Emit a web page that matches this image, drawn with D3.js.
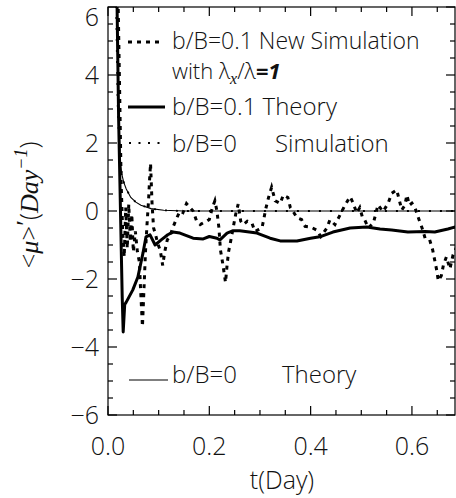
<!DOCTYPE html>
<html>
<head>
<meta charset="utf-8">
<script src="https://cdn.jsdelivr.net/npm/d3@7"></script>
<style>
  body { margin: 0; background: #fff; }
  text { font-family: "Open Sans", "DejaVu Sans", sans-serif; font-weight: 300; fill: #111; }
</style>
</head>
<body>
<div id="chart"></div>
<script>
// b/B=0.1 new simulation (thick dotted)
const newSimT = [0.019,0.023,0.026,0.029,0.032,0.035,0.038,0.041,0.044,0.047,0.050,0.054,0.058,0.062,0.064,0.066,0.068,0.071,0.074,0.077,0.080,0.082,0.084,0.087,0.090,0.094,0.098,0.103,0.108,0.112,0.117,0.122,0.129,0.136,0.142,0.148,0.155,0.162,0.168,0.175,0.182,0.188,0.195,0.200,0.206,0.211,0.215,0.219,0.222,0.226,0.229,0.232,0.235,0.238,0.242,0.247,0.252,0.257,0.262,0.267,0.275,0.284,0.290,0.297,0.304,0.308,0.312,0.317,0.323,0.330,0.340,0.346,0.355,0.360,0.367,0.373,0.382,0.389,0.400,0.412,0.420,0.432,0.438,0.448,0.458,0.468,0.478,0.484,0.491,0.497,0.502,0.507,0.514,0.524,0.533,0.543,0.553,0.560,0.570,0.575,0.580,0.586,0.590,0.595,0.600,0.606,0.612,0.620,0.626,0.635,0.641,0.645,0.649,0.652,0.658,0.662,0.668,0.675,0.681,0.690];
const newSimV = [7,3.5,0.8,-0.6,-1.35,0.1,-1.1,0.2,-0.9,-0.1,-1.2,-0.6,-1.2,-1.5,-2.2,-2.8,-3.4,-2.3,-1.2,-0.4,0.3,0.9,1.4,0.2,-0.5,-0.7,-0.95,-1.15,-1.6,-1.2,-0.85,-0.75,-0.45,-0.2,0.0,-0.05,0.22,0.1,0.0,-0.3,-0.4,-0.35,-0.3,-0.25,0.1,0.3,0.0,-0.5,-1.15,-1.5,-1.8,-2.1,-1.6,-1.2,-0.9,-0.5,-0.1,0.2,-0.3,-0.4,-0.3,-0.35,-0.6,-0.55,-0.5,-0.2,0.1,0.4,0.7,0.3,0.22,0.47,0.4,0.1,-0.05,-0.2,-0.25,-0.45,-0.47,-0.56,-0.75,-0.5,-0.26,-0.4,-0.12,0.18,0.42,0.23,-0.06,0.1,-0.17,-0.27,-0.5,-0.35,0.18,-0.02,0.23,0.52,0.62,0.32,0.03,0.17,0.47,0.17,0.23,0.1,-0.17,-0.5,-0.8,-0.85,-1.15,-1.45,-1.75,-2.05,-1.9,-1.6,-1.35,-1.7,-1.3,-1.0];

// b/B=0.1 theory (thick solid)
const theory1T = [0.017,0.021,0.028,0.030,0.033,0.036,0.049,0.059,0.069,0.075,0.083,0.093,0.105,0.118,0.128,0.142,0.168,0.188,0.200,0.215,0.221,0.235,0.247,0.260,0.294,0.320,0.340,0.373,0.400,0.418,0.444,0.478,0.511,0.537,0.560,0.592,0.626,0.645,0.671,0.690];
const theory1V = [7,2.7,-2.5,-3.56,-2.75,-2.68,-2.32,-1.94,-1.24,-0.76,-0.7,-1.0,-0.85,-0.7,-0.62,-0.65,-0.8,-0.82,-0.75,-0.8,-0.85,-0.65,-0.58,-0.58,-0.65,-0.8,-0.88,-0.88,-0.8,-0.76,-0.62,-0.5,-0.47,-0.53,-0.56,-0.62,-0.6,-0.62,-0.53,-0.45];

// b/B=0 theory (thin solid)
const theory0T = [0.016,0.020,0.024,0.027,0.031,0.036,0.045,0.055,0.065,0.085,0.110,0.150,0.690];
const theory0V = [7,3.5,1.6,1.1,0.85,0.65,0.4,0.26,0.17,0.07,0.02,0.0,0.0];

// b/B=0 simulation (thin dotted)
const sim0T = [0.015,0.019,0.023,0.027,0.031,0.036,0.045,0.055,0.065,0.085,0.110,0.150,0.690];
const sim0V = [7,3.2,1.5,1.1,0.85,0.65,0.4,0.26,0.17,0.07,0.02,0.0,0.0];

const xTicks = [0.0, 0.2, 0.4, 0.6];
const yTicks = [-6, -4, -2, 0, 2, 4, 6];

const W = 456, H = 498;
const svg = d3.select("#chart").append("svg").attr("width", W).attr("height", H);

const x = d3.scaleLinear().domain([0, 0.685]).range([108, 455]);
const y = d3.scaleLinear().domain([-6, 6]).range([415, 7]);

svg.append("clipPath").attr("id", "clip").append("rect")
  .attr("x", x.range()[0]).attr("y", y.range()[1])
  .attr("width", x.range()[1] - x.range()[0]).attr("height", y.range()[0] - y.range()[1]);

const line = d3.line().x(d => x(d[0])).y(d => y(d[1]));
const zip = (a, b) => a.map((t, i) => [t, b[i]]);

const plot = svg.append("g").attr("clip-path", "url(#clip)");
plot.append("path").attr("d", line(zip(theory0T, theory0V)))
  .attr("fill", "none").attr("stroke", "#000").attr("stroke-width", 1.1);
plot.append("path").attr("d", line(zip(sim0T, sim0V)))
  .attr("fill", "none").attr("stroke", "#000").attr("stroke-width", 1.8)
  .attr("stroke-dasharray", "2,9");
plot.append("path").attr("d", line(zip(theory1T, theory1V)))
  .attr("fill", "none").attr("stroke", "#000").attr("stroke-width", 3)
  .attr("stroke-linejoin", "round");
plot.append("path").attr("d", line(zip(newSimT, newSimV)))
  .attr("fill", "none").attr("stroke", "#000").attr("stroke-width", 3)
  .attr("stroke-dasharray", "4,5");

// frame with inward ticks on all sides
const frame = svg.append("g");
frame.append("rect").attr("x", x.range()[0]).attr("y", y.range()[1])
  .attr("width", x.range()[1] - x.range()[0]).attr("height", y.range()[0] - y.range()[1])
  .attr("fill", "none").attr("stroke", "#000").attr("stroke-width", 1.2);

const xMinor = d3.range(0, 0.6851, 0.05);
const yMinor = d3.range(-6, 6.001, 0.5);
const isMajX = v => Math.abs(v / 0.2 - Math.round(v / 0.2)) < 1e-6;
const isMajY = v => Math.abs(v / 2 - Math.round(v / 2)) < 1e-6;

xMinor.forEach(v => {
  const len = isMajX(v) ? 9 : 5;
  [[y.range()[0], -len], [y.range()[1], len]].forEach(([y0, dl]) => {
    frame.append("line").attr("x1", x(v)).attr("x2", x(v)).attr("y1", y0).attr("y2", y0 + dl)
      .attr("stroke", "#000").attr("stroke-width", 1.2);
  });
});
yMinor.forEach(v => {
  const len = isMajY(v) ? 9 : 5;
  [[x.range()[0], len], [x.range()[1], -len]].forEach(([x0, dl]) => {
    frame.append("line").attr("x1", x0).attr("x2", x0 + dl).attr("y1", y(v)).attr("y2", y(v))
      .attr("stroke", "#000").attr("stroke-width", 1.2);
  });
});

// tick labels
svg.append("g").selectAll("text").data(xTicks).join("text")
  .attr("x", d => x(d)).attr("y", 455).attr("text-anchor", "middle")
  .style("font-size", "25px").text(d => d.toFixed(1));
svg.append("g").selectAll("text").data(yTicks).join("text")
  .attr("x", 99).attr("y", d => Math.max(y(d), 17)).attr("dy", "0.36em")
  .attr("text-anchor", "end").style("font-size", "25px")
  .text(d => d < 0 ? "\u2212" + Math.abs(d) : d);

// axis titles
svg.append("text").attr("x", 282).attr("y", 489).attr("text-anchor", "middle")
  .style("font-size", "25px").text("t(Day)");

const yl = svg.append("text").attr("transform", "translate(38,205) rotate(-90)")
  .attr("text-anchor", "middle").style("font-size", "26px");
yl.append("tspan").text("<");
yl.append("tspan").style("font-family", "Liberation Serif").style("font-style", "italic").text("\u03bc");
yl.append("tspan").text(">");
yl.append("tspan").style("font-family", "Liberation Serif").attr("dy", -4).text("\u2032");
yl.append("tspan").attr("dy", 4).text("(");
yl.append("tspan").style("font-family", "Liberation Serif").style("font-style", "italic").text("Day");
yl.append("tspan").style("font-family", "Liberation Serif").style("font-style", "italic")
  .style("font-size", "18px").attr("dy", -11).text("\u22121");
yl.append("tspan").attr("dy", 11).text(")");

// legend
const lg = svg.append("g");
lg.append("line").attr("x1", 128).attr("x2", 164).attr("y1", 42).attr("y2", 42)
  .attr("stroke", "#000").attr("stroke-width", 3).attr("stroke-dasharray", "4,5");
lg.append("text").attr("x", 172).attr("y", 49).style("font-size", "23px")
  .text("b/B=0.1 New Simulation");

const w2 = lg.append("text").attr("x", 172).attr("y", 79).style("font-size", "22px");
w2.append("tspan").text("with ");
w2.append("tspan").text("\u03bb");
w2.append("tspan").style("font-style", "italic").style("font-family", "Liberation Serif")
  .style("font-size", "16px").attr("dy", 5).text("x");
w2.append("tspan").attr("dy", -5).text("/\u03bb");
w2.append("tspan").style("font-style", "italic").style("font-weight", "bold").text("=1");

lg.append("line").attr("x1", 128).attr("x2", 165).attr("y1", 107).attr("y2", 107)
  .attr("stroke", "#000").attr("stroke-width", 3);
lg.append("text").attr("x", 172).attr("y", 115).style("font-size", "24px")
  .text("b/B=0.1 Theory");

lg.append("line").attr("x1", 129).attr("x2", 165).attr("y1", 143).attr("y2", 143)
  .attr("stroke", "#000").attr("stroke-width", 1.8).attr("stroke-dasharray", "2,7.5");
const t4 = lg.append("text").attr("x", 172).attr("y", 152).style("font-size", "24px");
t4.append("tspan").text("b/B=0");
t4.append("tspan").attr("x", 275).text("Simulation");

lg.append("line").attr("x1", 129).attr("x2", 168).attr("y1", 380).attr("y2", 380)
  .attr("stroke", "#000").attr("stroke-width", 1.1);
const t5 = lg.append("text").attr("x", 172).attr("y", 383).style("font-size", "24px");
t5.append("tspan").text("b/B=0");
t5.append("tspan").attr("x", 282).text("Theory");
</script>
</body>
</html>
